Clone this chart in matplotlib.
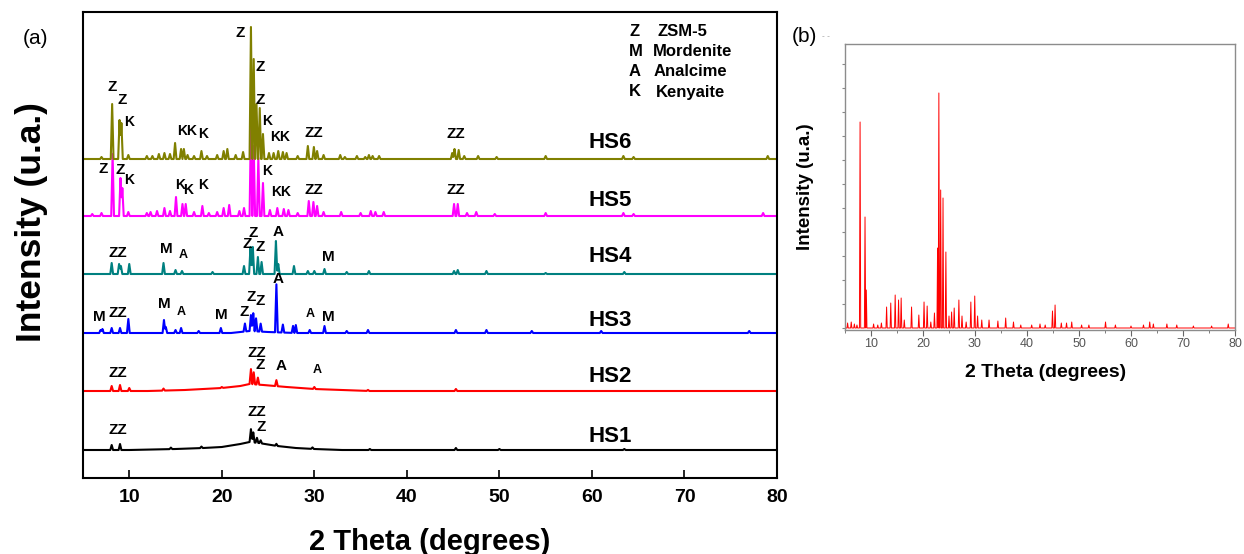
import numpy as np
import matplotlib
matplotlib.use('Agg')
import matplotlib.pyplot as plt

plt.rcParams['font.family'] = ['Liberation Sans', 'DejaVu Sans']

# ---- panel (a): peak positions (2theta) and heights (a.u.) per sample ----
hs1_bg = [(5, 0), (10, 0), (15, 1), (18, 2), (20, 3), (22, 6), (23, 8), (24, 7),
          (26, 4), (28, 2), (30, 1), (33, 0), (80, 0)]
hs1_x = [8.1, 9.0, 14.5, 17.8, 23.15, 23.4, 23.8, 24.2, 25.9, 29.8, 36.0, 45.3, 50.0, 63.5]
hs1_h = [5, 6, 1.5, 1.5, 13, 10, 5, 3, 2, 1.5, 1, 2, 1, 1]

hs2_bg = [(5, 0), (12, 0), (16, 1), (20, 3), (22, 5), (23, 7), (24.5, 6), (27, 4),
          (30, 2), (33, 1), (36, 0), (80, 0)]
hs2_x = [8.1, 9.0, 10.0, 13.7, 20.0, 23.15, 23.45, 23.9, 25.9, 30.0, 35.8, 45.3]
hs2_h = [5, 6, 3, 2, 1, 15, 12, 7, 6, 2, 1, 2]

hs3_bg = [(5, 0), (21, 0), (23, 2), (25, 1), (28, 0), (80, 0)]
hs3_x = [6.9, 7.1, 8.1, 9.0, 9.9, 13.75, 13.95, 15.0, 15.6, 17.5, 19.9, 22.5, 23.15, 23.4,
         23.7, 24.2, 25.9, 26.6, 27.7, 28.0, 29.5, 31.1, 33.5, 35.8, 45.3, 48.6, 53.5, 61.0, 77.0]
hs3_h = [3, 4, 5, 5, 14, 13, 6, 3, 5, 2, 5, 8, 16, 18, 13, 8, 48, 8, 7, 8, 3, 7, 2, 3, 3, 3, 2, 2, 2]

hs4_bg = [(5, 0), (80, 0)]
hs4_x = [8.1, 8.9, 9.1, 10.0, 13.7, 15.0, 15.7, 19.0, 22.4, 23.1, 23.35, 23.9, 24.3, 25.85,
         26.1, 27.8, 29.3, 30.0, 31.1, 33.5, 35.9, 45.1, 45.5, 48.6, 55.0, 63.5]
hs4_h = [11, 10, 8, 10, 11, 4, 3, 2, 8, 27, 27, 17, 12, 33, 10, 8, 3, 3, 5, 2, 3, 3, 4, 3, 1, 2]

hs5_bg = [(5, 0), (80, 0)]
hs5_x = [6.0, 7.0, 8.2, 9.05, 9.25, 9.9, 11.9, 12.3, 13.0, 13.8, 14.4, 15.05, 15.75, 16.1,
         17.0, 17.9, 18.6, 19.5, 20.2, 20.8, 21.9, 22.4, 23.15, 23.45, 23.95, 24.45, 25.2,
         26.0, 26.7, 27.2, 28.2, 29.4, 29.9, 30.3, 31.0, 32.9, 35.0, 36.1, 36.6, 37.5,
         45.1, 45.5, 46.5, 47.5, 49.5, 55.0, 63.4, 64.5, 78.5]
hs5_h = [2, 3, 62, 38, 28, 4, 3, 4, 5, 8, 5, 19, 12, 12, 4, 10, 3, 4, 8, 11, 5, 8, 93, 70,
         58, 33, 6, 8, 7, 6, 3, 15, 14, 10, 4, 4, 3, 5, 4, 4, 12, 12, 3, 4, 2, 3, 3, 2, 3]

hs6_bg = [(5, 0), (80, 0)]
hs6_x = [7.0, 8.15, 8.95, 9.15, 9.9, 11.9, 12.5, 13.2, 13.8, 14.4, 14.95, 15.6, 15.9, 16.3,
         17.0, 17.8, 18.4, 19.5, 20.2, 20.6, 21.5, 22.3, 23.15, 23.45, 23.75, 24.1, 24.45,
         25.1, 25.6, 26.1, 26.6, 27.0, 28.2, 29.3, 29.95, 30.3, 31.0, 32.8, 33.3, 34.6,
         35.5, 35.9, 36.3, 37.0, 44.9, 45.15, 45.6, 46.2, 47.7, 49.7, 55.0, 63.4, 64.5, 79.0]
hs6_h = [2, 55, 39, 36, 4, 3, 3, 5, 6, 5, 16, 10, 10, 4, 3, 8, 3, 4, 8, 10, 4, 7, 132, 100,
         55, 51, 25, 6, 6, 8, 7, 6, 3, 13, 12, 8, 4, 4, 2, 3, 2, 4, 3, 3, 6, 10, 9, 3, 3, 2,
         3, 3, 2, 3]

samples = ['HS1', 'HS2', 'HS3', 'HS4', 'HS5', 'HS6']
offsets = [0, 59, 117, 176, 234, 291]
colors = ['black', '#ff0000', '#0000ff', '#008080', '#ff00ff', '#808000']

# phase markers: (label, 2theta, height, size)
marks = [
    ('Z', 8.2, 363, 11), ('Z', 9.25, 350, 11), ('K', 10.0, 328, 10), ('KK', 16.2, 319, 10),
    ('K', 18.0, 316, 10), ('Z', 22.0, 417, 11), ('Z', 24.1, 383, 11), ('Z', 24.2, 350, 11),
    ('K', 24.9, 329, 10), ('KK', 26.3, 313, 10), ('ZZ', 30.0, 317, 11), ('ZZ', 45.3, 316, 11),
    ('Z', 7.2, 281, 11), ('Z', 9.05, 280, 11), ('K', 10.0, 270, 10), ('K', 15.55, 265, 10),
    ('K', 16.35, 260, 10), ('K', 18.0, 265, 10), ('K', 24.9, 279, 10), ('KK', 26.4, 258, 10),
    ('ZZ', 30.0, 260, 11), ('ZZ', 45.3, 260, 11),
    ('ZZ', 8.8, 197, 11), ('M', 14.0, 201, 11), ('A', 15.8, 195, 9), ('Z', 23.4, 217, 11),
    ('Z', 22.7, 206, 11), ('Z', 24.2, 203, 11), ('A', 26.1, 218, 11), ('M', 31.5, 193, 11),
    ('M', 6.8, 133, 11), ('ZZ', 8.8, 137, 11), ('M', 13.8, 146, 11), ('A', 15.6, 138, 9),
    ('M', 19.9, 135, 11), ('Z', 22.4, 138, 11), ('Z', 23.2, 153, 11), ('Z', 24.1, 149, 11),
    ('A', 26.1, 171, 11), ('A', 29.6, 136, 9), ('M', 31.5, 133, 11),
    ('ZZ', 8.8, 77, 11), ('ZZ', 23.8, 97, 11), ('Z', 24.2, 85, 11), ('A', 26.4, 84, 11),
    ('A', 30.3, 80, 9),
    ('ZZ', 8.8, 20, 11), ('ZZ', 23.8, 38, 11), ('Z', 24.3, 23, 11),
]
label_y = [13, 73, 130, 193, 250, 307]

# ---- panel (b) ----
b_x = [5.5, 6.2, 6.8, 7.3, 7.9, 8.85, 9.1, 10.5, 11.3, 12.0, 13.0, 13.8, 14.65, 15.3, 15.8,
       16.4, 17.8, 19.2, 20.2, 20.8, 21.5, 22.2, 22.8, 23.05, 23.4, 23.85, 24.4, 25.0, 25.5,
       26.0, 26.9, 27.5, 28.3, 29.2, 29.95, 30.5, 31.3, 32.7, 34.4, 35.9, 37.4, 38.8, 40.9,
       42.5, 43.5, 44.9, 45.4, 46.6, 47.6, 48.6, 50.5, 51.9, 55.1, 57.0, 60.0, 62.4, 63.6,
       64.3, 66.9, 68.8, 72.0, 75.5, 78.7]
b_h = [5, 6, 4, 3, 206, 111, 38, 4, 3, 5, 21, 25, 33, 28, 30, 8, 21, 13, 26, 22, 6, 15, 80,
       235, 138, 130, 76, 12, 16, 20, 28, 12, 6, 26, 32, 12, 8, 8, 7, 10, 6, 3, 3, 4, 3, 17,
       23, 5, 5, 6, 3, 3, 6, 3, 2, 3, 6, 4, 4, 3, 2, 2, 4]


def build(px, ph, bg, w=0.15):
    # vertices of narrow triangular peaks sitting on the listed background
    bx = [p[0] for p in bg]
    by = [p[1] for p in bg]
    xs = set(bx)
    for x in px:
        xs.update([x - w, x, x + w])
    xs = np.array(sorted(xs))
    ys = np.interp(xs, bx, by)
    for x, h in zip(px, ph):
        ys = ys + np.interp(xs, [x - w, x, x + w], [0, h, 0])
    return xs, ys


fig = plt.figure(figsize=(12.44, 5.54), dpi=100)
ax = fig.add_axes([83 / 1244, 76 / 554, 694 / 1244, 466 / 554])

data = [(hs1_x, hs1_h, hs1_bg), (hs2_x, hs2_h, hs2_bg), (hs3_x, hs3_h, hs3_bg),
        (hs4_x, hs4_h, hs4_bg), (hs5_x, hs5_h, hs5_bg), (hs6_x, hs6_h, hs6_bg)]
for (px, ph, bg), off, c, name, ly in zip(data, offsets, colors, samples, label_y):
    xs, ys = build(px, ph, bg)
    ax.plot(xs, ys + off, color=c, lw=1.5)
    ax.text(62.0, ly, name, fontsize=16, fontweight='bold', ha='center', va='center')

for t, x, y, s in marks:
    ax.text(x, y, t, fontsize=s, fontweight='bold', ha='center', va='center')

ax.set_xlim(5, 80)
ax.set_ylim(-28, 438)
ax.set_xticks([10, 20, 30, 40, 50, 60, 70, 80])
ax.set_yticks([])
ax.tick_params(axis='x', direction='in', length=6, width=1.2, pad=8, labelsize=14)
for lab in ax.get_xticklabels():
    lab.set_fontweight('bold')
for sp in ax.spines.values():
    sp.set_linewidth(1.5)
ax.set_xlabel('2 Theta (degrees)', fontsize=21, fontweight='bold')
ax.xaxis.set_label_coords(0.5, -0.107)
ax.set_ylabel('Intensity (u.a.)', fontsize=25.5, fontweight='bold')
ax.yaxis.set_label_coords(-0.051, 0.55)

legend_rows = [('Z', 'ZSM-5', 658, 32), ('M', 'Mordenite', 653, 52),
               ('A', 'Analcime', 654, 72), ('K', 'Kenyaite', 656, 92)]
for k, name, nx, yy in legend_rows:
    fig.text(629 / 1244, 1 - yy / 554, k, fontsize=12, fontweight='bold', va='center')
    fig.text(nx / 1244, 1 - yy / 554, name, fontsize=12, fontweight='bold', va='center')

fig.text(35 / 1244, 1 - 38 / 554, '(a)', fontsize=15, ha='center', va='center')
fig.text(804 / 1244, 1 - 36 / 554, '(b)', fontsize=15, ha='center', va='center')
fig.text(826 / 1244, 1 - 37 / 554, '- -', fontsize=6, color='#999999', ha='center', va='center')

# panel (b)
bx_, by_ = build(b_x, b_h, [(5, 0), (80, 0)], w=0.12)
axb = fig.add_axes([845 / 1244, 224 / 554, 390 / 1244, 286 / 554])
axb.plot(bx_, by_, color='#ff0000', lw=0.7)
axb.set_xlim(5, 80)
axb.set_ylim(-2, 284)
axb.set_xticks([10, 20, 30, 40, 50, 60, 70, 80])
axb.set_xticks(np.arange(5, 80, 5), minor=True)
axb.set_yticks(np.arange(0, 284, 24))
axb.set_yticklabels([])
for sp in axb.spines.values():
    sp.set_color('#8c8c8c')
    sp.set_linewidth(1.0)
axb.tick_params(axis='x', which='major', direction='out', length=4, color='#666666',
                labelsize=9, labelcolor='#555555', pad=2)
axb.tick_params(axis='x', which='minor', direction='out', length=2, color='#666666')
axb.tick_params(axis='y', direction='out', length=2.5, color='#888888')
axb.set_xlabel('2 Theta (degrees)', fontsize=14, fontweight='bold')
axb.xaxis.set_label_coords(0.515, -0.119)
axb.set_ylabel('Intensity (u.a.)', fontsize=13.5, fontweight='bold')
axb.yaxis.set_label_coords(-0.08, 0.5)

fig.savefig('out.png', dpi=100)
